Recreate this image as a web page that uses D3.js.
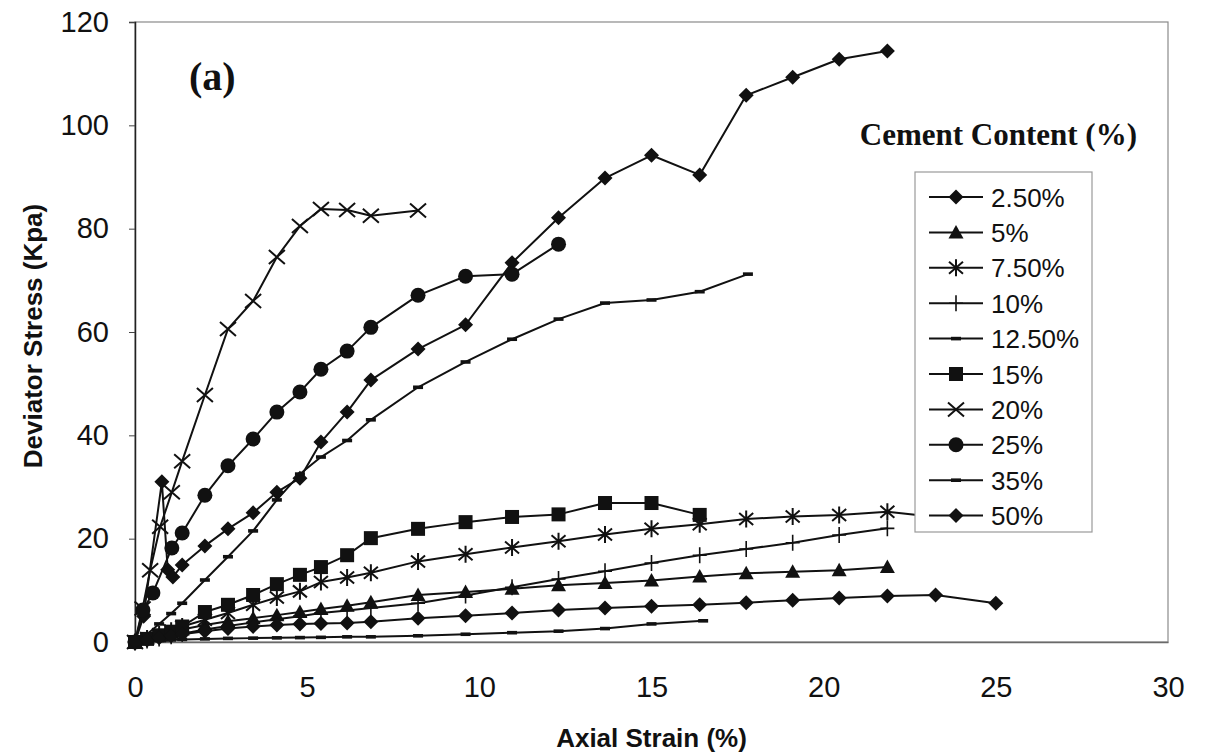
<!DOCTYPE html>
<html>
<head>
<meta charset="utf-8">
<script src="https://cdn.jsdelivr.net/npm/d3@7"></script>
<style>
  body { margin: 0; background: #fff; }
  svg { display: block; }
</style>
</head>
<body>
<svg id="chart" width="1214" height="756"></svg>
<script>
// Legend categories (cement content)
const cementContents = ["2.50%", "5%", "7.50%", "10%", "12.50%", "15%", "20%", "25%", "35%", "50%"];
const markerTypes = ["diamond", "triangle", "asterisk", "plus", "dash", "square", "cross", "circle", "dash", "diamond"];

// Axis ticks
const xTicks = [0, 5, 10, 15, 20, 25, 30];
const yTicks = [0, 20, 40, 60, 80, 100, 120];

// Axial strain (%) and deviator stress (kPa) for each mix
const strain2_5 = [0, 0.25, 0.78, 0.95, 1.1, 1.37, 2.03, 2.7, 3.43, 4.12, 4.79, 5.4, 6.16, 6.85, 8.22, 9.6, 10.95, 12.3, 13.65, 15.0, 16.4, 17.75, 19.1, 20.45, 21.85];
const stress2_5 = [0, 5, 31, 14, 12.6, 14.9, 18.6, 21.9, 25.0, 29.0, 31.7, 38.7, 44.5, 50.7, 56.7, 61.4, 73.4, 82.1, 89.8, 94.2, 90.4, 105.8, 109.3, 112.8, 114.4];

const strain5 = [0, 0.35, 0.7, 1.05, 1.37, 2.03, 2.7, 3.43, 4.12, 4.79, 5.4, 6.16, 6.85, 8.22, 9.6, 10.95, 12.3, 13.65, 15.0, 16.4, 17.75, 19.1, 20.45, 21.85];
const stress5 = [0, 0.6, 1.2, 1.8, 2.4, 3.3, 4.0, 4.6, 5.2, 5.8, 6.4, 7.0, 7.7, 9.1, 9.7, 10.3, 11.0, 11.4, 11.9, 12.7, 13.3, 13.6, 13.9, 14.5];

const strain7_5 = [0, 0.35, 0.7, 1.05, 1.37, 2.03, 2.7, 3.43, 4.12, 4.79, 5.4, 6.16, 6.85, 8.22, 9.6, 10.95, 12.3, 13.65, 15.0, 16.4, 17.75, 19.1, 20.45, 21.85, 23.25];
const stress7_5 = [0, 0.7, 1.5, 2.2, 3.0, 4.3, 5.6, 7.2, 8.6, 9.8, 11.6, 12.5, 13.4, 15.6, 17.0, 18.3, 19.5, 20.8, 21.9, 22.8, 23.8, 24.3, 24.6, 25.2, 24.2];

const strain10 = [0, 0.35, 0.7, 1.05, 1.37, 2.03, 2.7, 3.43, 4.12, 4.79, 5.4, 6.16, 6.85, 8.22, 9.6, 10.95, 12.3, 13.65, 15.0, 16.4, 17.75, 19.1, 20.45, 21.85];
const stress10 = [0, 0.3, 0.7, 1.1, 1.6, 2.4, 3.1, 3.8, 4.4, 5.0, 5.6, 6.1, 6.6, 7.5, 9.0, 10.6, 12.2, 13.7, 15.3, 16.8, 18.0, 19.2, 20.7, 22.0];

const strain12_5 = [0, 0.35, 0.7, 1.05, 1.37, 2.03, 2.7, 3.43, 4.12, 4.79, 5.4, 6.16, 6.85, 8.22, 9.6, 10.95, 12.3, 13.65, 15.0, 16.5];
const stress12_5 = [0, 0.2, 0.3, 0.4, 0.5, 0.6, 0.7, 0.75, 0.8, 0.85, 0.9, 1.0, 1.0, 1.2, 1.5, 1.8, 2.1, 2.6, 3.5, 4.1];

const strain15 = [0, 0.35, 0.7, 1.05, 1.37, 2.03, 2.7, 3.43, 4.12, 4.79, 5.4, 6.16, 6.85, 8.22, 9.6, 10.95, 12.3, 13.65, 15.0, 16.4];
const stress15 = [0, 0.6, 1.3, 2.0, 3.0, 5.8, 7.2, 9.1, 11.2, 13.0, 14.5, 16.8, 20.1, 21.9, 23.2, 24.2, 24.7, 26.9, 26.9, 24.6];

const strain20 = [0, 0.22, 0.44, 0.73, 1.07, 1.37, 2.03, 2.7, 3.43, 4.12, 4.79, 5.4, 6.16, 6.85, 8.22];
const stress20 = [0, 6.5, 13.9, 22.3, 29.0, 35.0, 47.8, 60.6, 66.0, 74.5, 80.5, 83.8, 83.6, 82.5, 83.5];

const strain25 = [0, 0.23, 0.52, 1.07, 1.37, 2.03, 2.7, 3.43, 4.12, 4.79, 5.4, 6.16, 6.85, 8.22, 9.6, 10.95, 12.3];
const stress25 = [0, 6.2, 9.5, 18.2, 21.1, 28.4, 34.1, 39.3, 44.5, 48.4, 52.8, 56.3, 60.9, 67.1, 70.8, 71.2, 77.0];

const strain35 = [0, 0.35, 0.7, 1.05, 1.37, 2.03, 2.7, 3.43, 4.12, 4.79, 5.4, 6.16, 6.85, 8.22, 9.6, 10.95, 12.3, 13.65, 15.0, 16.4, 17.8];
const stress35 = [0, 1.5, 3.5, 5.5, 7.5, 12.0, 16.5, 21.5, 27.5, 32.5, 35.8, 39.0, 43.0, 49.3, 54.2, 58.6, 62.5, 65.6, 66.2, 67.8, 71.2];

const strain50 = [0, 0.35, 0.7, 1.05, 1.37, 2.03, 2.7, 3.43, 4.12, 4.79, 5.4, 6.16, 6.85, 8.22, 9.6, 10.95, 12.3, 13.65, 15.0, 16.4, 17.75, 19.1, 20.45, 21.85, 23.25, 25.0];
const stress50 = [0, 0.4, 0.8, 1.2, 1.5, 2.1, 2.6, 3.0, 3.3, 3.5, 3.6, 3.7, 3.9, 4.6, 5.1, 5.6, 6.2, 6.6, 6.9, 7.2, 7.6, 8.1, 8.5, 8.9, 9.1, 7.5];

const strainSets = [strain2_5, strain5, strain7_5, strain10, strain12_5, strain15, strain20, strain25, strain35, strain50];
const stressSets = [stress2_5, stress5, stress7_5, stress10, stress12_5, stress15, stress20, stress25, stress35, stress50];

const series = cementContents.map((name, i) => ({
  name,
  marker: markerTypes[i],
  points: strainSets[i].map((s, j) => ({ x: s, y: stressSets[i][j] }))
}));

// Layout
const plot = { left: 135, right: 1168, top: 22, bottom: 642 };
const svg = d3.select("#chart");
const sans = "'Liberation Sans', Arial, sans-serif";
const serif = "'Liberation Serif', 'Times New Roman', serif";

const x = d3.scaleLinear().domain([0, 30]).range([plot.left, plot.right]);
const y = d3.scaleLinear().domain([0, 120]).range([plot.bottom, plot.top]);

// Plot frame
svg.append("rect")
  .attr("x", plot.left).attr("y", plot.top)
  .attr("width", plot.right - plot.left).attr("height", plot.bottom - plot.top)
  .attr("fill", "none").attr("stroke", "#8a8a8a").attr("stroke-width", 1.2);

// Y axis
const yAxis = d3.axisLeft(y).tickValues(yTicks).tickSize(6).tickPadding(20);
const gy = svg.append("g").attr("transform", `translate(${plot.left},0)`).call(yAxis);
gy.select(".domain").attr("stroke", "#222").attr("stroke-width", 1.5);
gy.selectAll(".tick line").attr("stroke", "#444");
gy.selectAll("text").attr("font-family", sans).attr("font-size", 29).attr("fill", "#111");

// X axis
const xAxis = d3.axisBottom(x).tickValues(xTicks).tickSize(0).tickPadding(34);
const gx = svg.append("g").attr("transform", `translate(0,${plot.bottom})`).call(xAxis);
gx.select(".domain").attr("stroke", "#6a6a6a").attr("stroke-width", 1.5);
gx.selectAll("text").attr("font-family", sans).attr("font-size", 29).attr("fill", "#111");

// Axis titles
svg.append("text")
  .attr("x", (plot.left + plot.right) / 2).attr("y", 747)
  .attr("text-anchor", "middle")
  .attr("font-family", sans).attr("font-weight", "bold").attr("font-size", 26)
  .attr("fill", "#111")
  .text("Axial Strain (%)");

svg.append("text")
  .attr("transform", `translate(42,${(plot.top + plot.bottom) / 2 + 4}) rotate(-90)`)
  .attr("text-anchor", "middle")
  .attr("font-family", sans).attr("font-weight", "bold").attr("font-size", 26)
  .attr("fill", "#111")
  .text("Deviator Stress (Kpa)");

// Panel label
svg.append("text")
  .attr("x", 189).attr("y", 90)
  .attr("font-family", serif).attr("font-weight", "bold").attr("font-size", 40)
  .attr("fill", "#111")
  .text("(a)");

// Marker drawing
function drawMarker(g, type) {
  const ink = "#111";
  switch (type) {
    case "diamond":
      g.append("path").attr("d", "M0,-7.5L7.5,0L0,7.5L-7.5,0Z").attr("fill", ink);
      break;
    case "triangle":
      g.append("path").attr("d", "M0,-7.5L7.5,6L-7.5,6Z").attr("fill", ink);
      break;
    case "square":
      g.append("rect").attr("x", -7).attr("y", -7).attr("width", 14).attr("height", 14).attr("fill", ink);
      break;
    case "circle":
      g.append("circle").attr("r", 7.5).attr("fill", ink);
      break;
    case "cross":
      g.append("path").attr("d", "M-8,-7L8,7M-8,7L8,-7").attr("stroke", ink).attr("stroke-width", 2).attr("fill", "none");
      break;
    case "asterisk":
      g.append("path").attr("d", "M-7,-6L7,6M-7,6L7,-6M0,-8.5L0,8.5").attr("stroke", ink).attr("stroke-width", 2).attr("fill", "none");
      break;
    case "plus":
      g.append("path").attr("d", "M-7,0L7,0M0,-8L0,8").attr("stroke", ink).attr("stroke-width", 1.6).attr("fill", "none");
      break;
    case "dash":
      g.append("rect").attr("x", -5).attr("y", -1.8).attr("width", 10).attr("height", 3.6).attr("fill", ink);
      break;
  }
}

const line = d3.line().x(d => x(d.x)).y(d => y(d.y));

const gSeries = svg.append("g");
series.forEach(s => {
  const g = gSeries.append("g");
  g.append("path")
    .datum(s.points)
    .attr("d", line)
    .attr("fill", "none")
    .attr("stroke", "#111")
    .attr("stroke-width", 2)
    .attr("stroke-linejoin", "round");
  g.selectAll("g.mk")
    .data(s.points)
    .join("g")
    .attr("class", "mk")
    .attr("transform", d => `translate(${x(d.x)},${y(d.y)})`)
    .each(function () { drawMarker(d3.select(this), s.marker); });
});

// Legend title
svg.append("text")
  .attr("x", 1137).attr("y", 145)
  .attr("text-anchor", "end")
  .attr("font-family", serif).attr("font-weight", "bold").attr("font-size", 31)
  .attr("fill", "#111")
  .text("Cement Content (%)");

// Legend box
const legend = { left: 915, top: 172, right: 1092, bottom: 532, first: 197, step: 35.4 };
svg.append("rect")
  .attr("x", legend.left).attr("y", legend.top)
  .attr("width", legend.right - legend.left).attr("height", legend.bottom - legend.top)
  .attr("fill", "#fff").attr("stroke", "#9a9a9a").attr("stroke-width", 1.2);

const gl = svg.append("g");
series.forEach((s, i) => {
  const cy = legend.first + i * legend.step;
  const g = gl.append("g").attr("transform", `translate(0,${cy})`);
  g.append("line").attr("x1", 929).attr("x2", 983).attr("y1", 0).attr("y2", 0)
    .attr("stroke", "#111").attr("stroke-width", 2);
  const m = g.append("g").attr("transform", "translate(956,0)");
  drawMarker(m, s.marker);
  g.append("text")
    .attr("x", 991).attr("y", 9.5)
    .attr("font-family", sans).attr("font-size", 26)
    .attr("fill", "#111")
    .text(s.name);
});
</script>
</body>
</html>
